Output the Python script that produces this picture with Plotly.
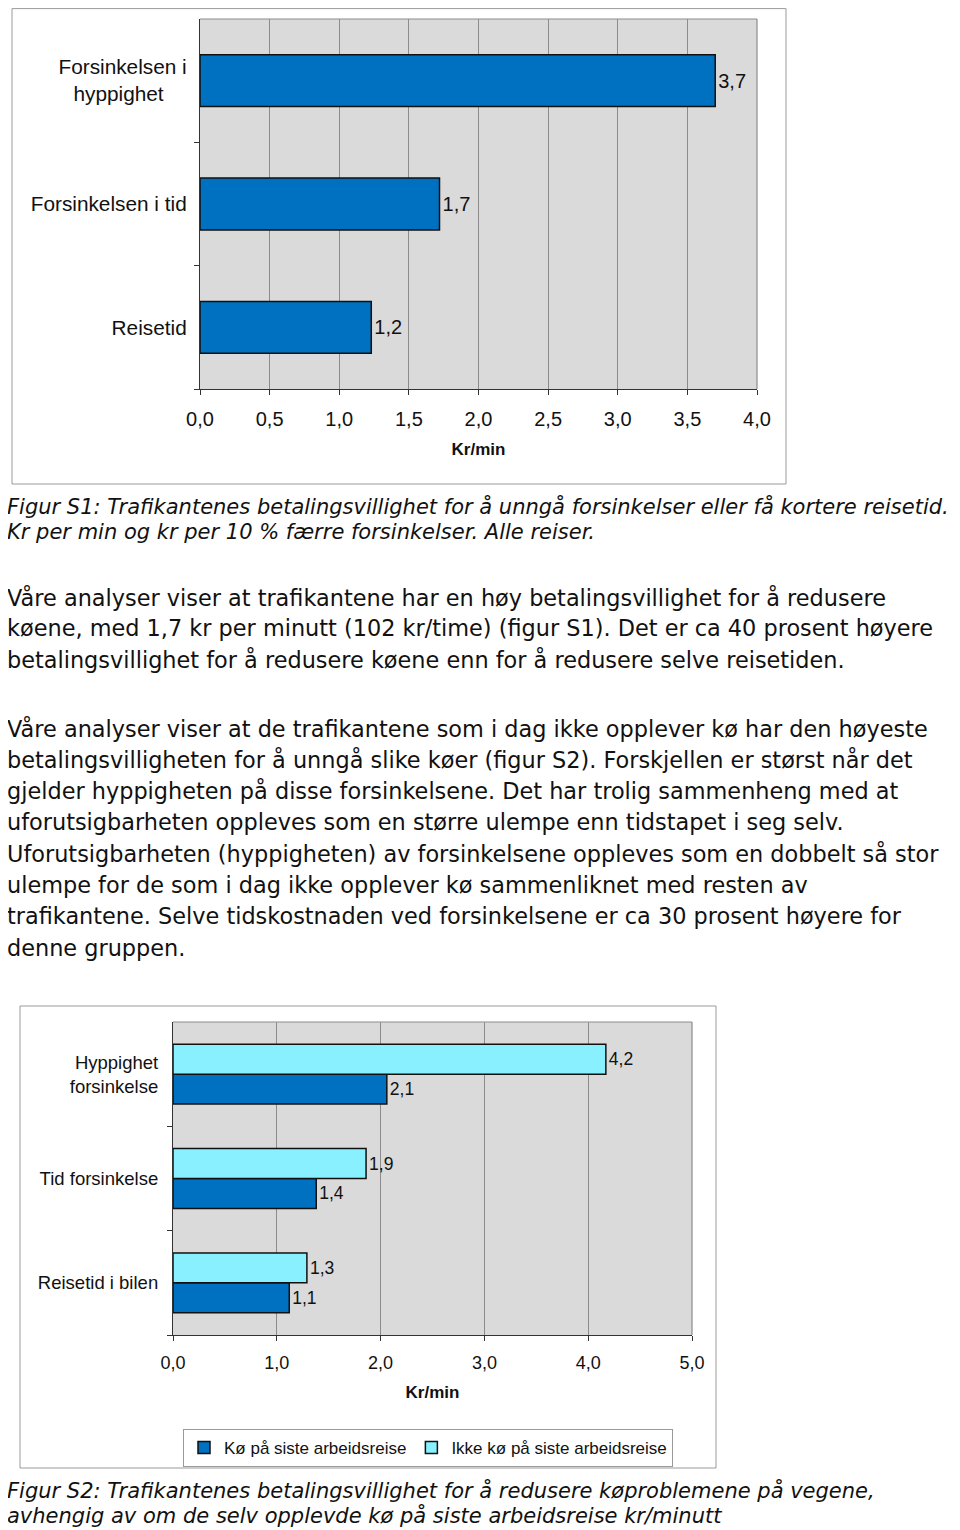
import plotly.graph_objects as go

# The page body has an 8px default margin, so the figure is drawn 8px in from the window edge.
OX, OY = 8, 8
W, H = 960 - OX, 1530 - OY

# ---------- data ----------
s1_categories = ["Forsinkelsen i hyppighet", "Forsinkelsen i tid", "Reisetid"]
s1_ticktext = ["Forsinkelsen i<br>hyppighet\u00a0\u00a0\u00a0\u00a0", "Forsinkelsen i tid", "Reisetid"]
s1_values = [3.70, 1.72, 1.23]

s2_categories = ["Hyppighet forsinkelse", "Tid forsinkelse", "Reisetid i bilen"]
s2_ticktext = ["Hyppighet<br>forsinkelse", "Tid forsinkelse", "Reisetid i bilen"]
s2_ko = [2.06, 1.38, 1.12]          # Kø på siste arbeidsreise
s2_ikke_ko = [4.17, 1.86, 1.29]     # Ikke kø på siste arbeidsreise
s2_series = ["Kø på siste arbeidsreise", "Ikke kø på siste arbeidsreise"]

caption1 = ["Figur S1: Trafikantenes betalingsvillighet for å unngå forsinkelser eller få kortere reisetid.",
            "Kr per min og kr per 10 % færre forsinkelser. Alle reiser."]
para1 = ["Våre analyser viser at trafikantene har en høy betalingsvillighet for å redusere",
         "køene, med 1,7 kr per minutt (102 kr/time) (figur S1). Det er ca 40 prosent høyere",
         "betalingsvillighet for å redusere køene enn for å redusere selve reisetiden."]
para2 = ["Våre analyser viser at de trafikantene som i dag ikke opplever kø har den høyeste",
         "betalingsvilligheten for å unngå slike køer (figur S2). Forskjellen er størst når det",
         "gjelder hyppigheten på disse forsinkelsene. Det har trolig sammenheng med at",
         "uforutsigbarheten oppleves som en større ulempe enn tidstapet i seg selv.",
         "Uforutsigbarheten (hyppigheten) av forsinkelsene oppleves som en dobbelt så stor",
         "ulempe for de som i dag ikke opplever kø sammenliknet med resten av",
         "trafikantene. Selve tidskostnaden ved forsinkelsene er ca 30 prosent høyere for",
         "denne gruppen."]
caption2 = ["Figur S2: Trafikantenes betalingsvillighet for å redusere køproblemene på vegene,",
            "avhengig av om de selv opplevde kø på siste arbeidsreise kr/minutt"]

# ---------- helpers (window pixel -> paper fraction) ----------
def px(x):
    return (x - OX) / W

def py(y):
    return 1 - (y - OY) / H

DARK = "#0070C0"
LIGHT = "#88F0FF"
CHART_FONT = "Liberation Sans, Arial, sans-serif"
TEXT_FONT = "DejaVu Sans, sans-serif"

fig = go.Figure()

# Chart 1
fig.add_trace(go.Bar(
    y=s1_categories, x=s1_values, orientation="h",
    marker=dict(color=DARK, line=dict(color="#111111", width=1.5)),
    width=0.42, offset=-0.21,
    texttemplate="%{x:.1f}", textposition="outside",
    outsidetextfont=dict(family=CHART_FONT, size=20, color="#111111"),
    cliponaxis=False, showlegend=False,
    xaxis="x", yaxis="y",
))

# Chart 2
fig.add_trace(go.Bar(
    y=s2_categories, x=s2_ko, orientation="h", name=s2_series[0],
    marker=dict(color=DARK, line=dict(color="#111111", width=1.5)),
    width=0.287, offset=-0.287,
    texttemplate="%{x:.1f}", textposition="outside",
    outsidetextfont=dict(family=CHART_FONT, size=17.5, color="#111111"),
    cliponaxis=False,
    xaxis="x2", yaxis="y2",
))
fig.add_trace(go.Bar(
    y=s2_categories, x=s2_ikke_ko, orientation="h", name=s2_series[1],
    marker=dict(color=LIGHT, line=dict(color="#111111", width=1.5)),
    width=0.287, offset=0.0,
    texttemplate="%{x:.1f}", textposition="outside",
    outsidetextfont=dict(family=CHART_FONT, size=17.5, color="#111111"),
    cliponaxis=False,
    xaxis="x2", yaxis="y2",
))

axis_common = dict(showline=True, linecolor="#333333", linewidth=1.2, automargin=False,
                   ticks="outside", ticklen=5, tickcolor="#333333", zeroline=False)

fig.update_layout(
    template="none",
    width=W, height=H,
    autosize=False,
    margin=dict(l=0, r=0, t=0, b=0, pad=0, autoexpand=False),
    paper_bgcolor="white",
    plot_bgcolor="#DADADA",
    separators=", ",
    xaxis=dict(domain=[px(200), px(757)], anchor="y", range=[0, 4], dtick=0.5,
               tickformat=".1f", showgrid=True, gridcolor="#8C8C8C", gridwidth=1,
               tickfont=dict(family=CHART_FONT, size=20, color="#111111"),
               ticklabelstandoff=7,
               title=dict(text="<b>Kr/min</b>", standoff=14,
                          font=dict(family=CHART_FONT, size=17, color="#111111")),
               **axis_common),
    yaxis=dict(domain=[py(389), py(19)], anchor="x", type="category",
               categoryorder="array", categoryarray=s1_categories[::-1],
               tickvals=s1_categories, ticktext=s1_ticktext,
               tickson="boundaries", showgrid=False,
               tickfont=dict(family=CHART_FONT, size=20.8, color="#111111"),
               ticklabelstandoff=8,
               **axis_common),
    xaxis2=dict(domain=[px(173), px(692)], anchor="y2", range=[0, 5], dtick=1,
                tickformat=".1f", showgrid=True, gridcolor="#8C8C8C", gridwidth=1,
                tickfont=dict(family=CHART_FONT, size=18, color="#111111"),
                ticklabelstandoff=6,
                title=dict(text="<b>Kr/min</b>", standoff=14,
                           font=dict(family=CHART_FONT, size=17, color="#111111")),
                **axis_common),
    yaxis2=dict(domain=[py(1335), py(1022)], anchor="x2", type="category",
                categoryorder="array", categoryarray=s2_categories[::-1],
                tickvals=s2_categories, ticktext=s2_ticktext,
                tickson="boundaries", showgrid=False,
                tickfont=dict(family=CHART_FONT, size=18.5, color="#111111"),
                ticklabelstandoff=10,
                **axis_common),
    legend=dict(orientation="h", x=px(183), y=py(1429), xanchor="left", yanchor="top",
                bordercolor="#9A9A9A", borderwidth=1, bgcolor="white",
                font=dict(family=CHART_FONT, size=17, color="#111111"),
                itemwidth=30, traceorder="normal", tracegroupgap=0),
)

shapes = []
# outer frames
shapes.append(dict(type="rect", xref="paper", yref="paper", x0=px(12), x1=px(786), y0=py(484), y1=py(8.6),
                   line=dict(color="#9A9A9A", width=1), fillcolor="rgba(0,0,0,0)", layer="below"))
shapes.append(dict(type="rect", xref="paper", yref="paper", x0=px(20), x1=px(716), y0=py(1468), y1=py(1006),
                   line=dict(color="#9A9A9A", width=1), fillcolor="rgba(0,0,0,0)", layer="below"))
# top and right plot edges
for xr, yr in (("x", "y"), ("x2", "y2")):
    shapes.append(dict(type="line", xref=f"{xr} domain", yref=f"{yr} domain", x0=0, x1=1, y0=1, y1=1,
                       line=dict(color="#8C8C8C", width=1.2)))
    shapes.append(dict(type="line", xref=f"{xr} domain", yref=f"{yr} domain", x0=1, x1=1, y0=0, y1=1,
                       line=dict(color="#8C8C8C", width=1.2)))
fig.update_layout(shapes=shapes)

annotations = []
def add_lines(lines, y0, step, size, italic=False):
    for i, line in enumerate(lines):
        annotations.append(dict(
            text=line, xref="paper", yref="paper", x=px(5), y=py(y0 + i * step),
            xanchor="left", yanchor="middle", showarrow=False,
            font=dict(family=TEXT_FONT, size=size, color="#111111",
                      style="italic" if italic else "normal"),
        ))

add_lines(caption1, 506, 26, 21, italic=True)
add_lines(para1, 597, 31.2, 22.4)
add_lines(para2, 728, 31.4, 22.4)
add_lines(caption2, 1490, 25, 21, italic=True)
fig.update_layout(annotations=annotations)

fig.write_html("out.html")
